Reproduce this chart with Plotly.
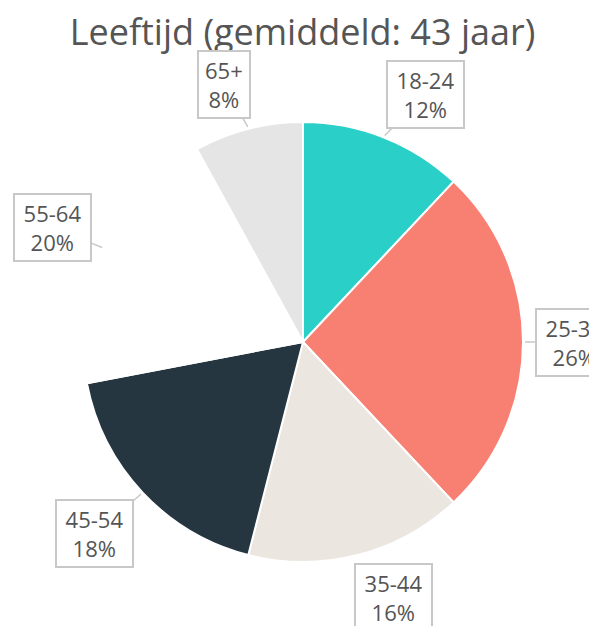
import math
import plotly.graph_objects as go

# age groups and shares (%)
labels = ["18-24", "25-34", "35-44", "45-54", "55-64", "65+"]
values = [12, 26, 16, 18, 20, 8]
colors = ["#2ad0c8", "#f88073", "#ebe6e0", "#263640", "#ffffff", "#e5e5e5"]

# page has an 8px body margin, so the figure is 8px smaller than the window
W, H = 589, 618
cx, cy, R = 295, 334, 220  # pie centre and radius in figure px

# label box offsets from the slice edge (px, screen coords)
offsets = [(41, -41), (49, 0), (35, 40), (-47, 40), (-50, -20), (-24, -42)]

fig = go.Figure(go.Pie(
    labels=labels,
    values=values,
    sort=False,
    direction="clockwise",
    rotation=0,
    marker=dict(colors=colors, line=dict(color="white", width=2)),
    textinfo="none",
    hoverinfo="label+percent",
    showlegend=False,
    domain=dict(x=[(cx - R) / W, (cx + R) / W], y=[1 - (cy + R) / H, 1 - (cy - R) / H]),
))

total = sum(values)
start = 0.0
annotations = []
for lab, v, (ox, oy) in zip(labels, values, offsets):
    mid = math.radians((start + v / 2) / total * 360)
    start += v
    tx = cx + (R + 2) * math.sin(mid)
    ty = cy - (R + 2) * math.cos(mid)
    pct = f"{round(v / total * 100)}%"
    annotations.append(dict(
        x=tx / W, y=1 - ty / H, xref="paper", yref="paper",
        ax=ox, ay=oy, axref="pixel", ayref="pixel",
        text=f"{lab}<br>{pct}",
        showarrow=True, arrowhead=0, arrowwidth=1.5, arrowcolor="#c8c8c8",
        bordercolor="#c8c8c8", borderwidth=2, borderpad=3, bgcolor="white",
        width=max(len(lab), len(pct)) * 12.6 + 6,
        font=dict(family="Open Sans, sans-serif", size=22, color="#555555"),
    ))

fig.update_layout(
    width=W, height=H,
    margin=dict(l=0, r=0, t=0, b=0),
    paper_bgcolor="white",
    title=dict(
        text="Leeftijd (gemiddeld: 43 jaar)",
        x=0.5, xanchor="center", y=1 - 24 / H, yanchor="middle",
        font=dict(family="Open Sans, sans-serif", size=36, color="#555555"),
    ),
    annotations=annotations,
)

fig.write_html("out.html")
